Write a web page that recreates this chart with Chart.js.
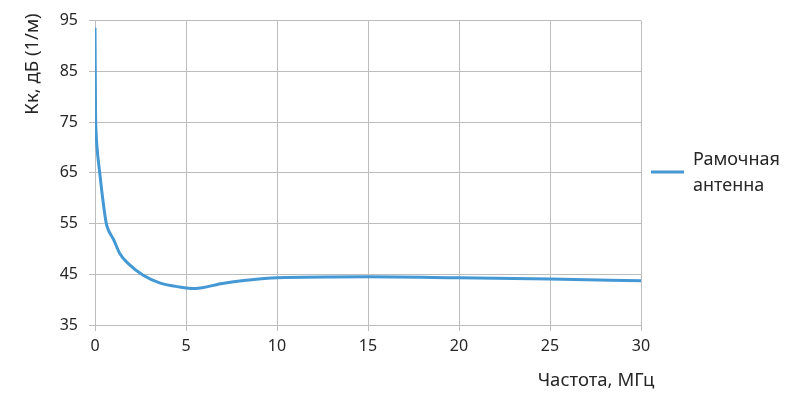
<!DOCTYPE html>
<html>
<head>
<meta charset="utf-8">
<script src="https://cdn.jsdelivr.net/npm/chart.js@4"></script>
<style>
  body { margin: 0; background: #fff; }
</style>
</head>
<body>
<canvas id="myChart" width="800" height="407"></canvas>
<script>
// data
var freq = [0, 0.03, 0.06, 0.11, 0.26, 0.42, 0.62, 0.75, 1.0, 1.36, 1.83, 2.65, 3.55, 4.65, 5.5, 7.0, 8.3, 10, 15, 20, 25, 30];
var kk = [93.6, 77, 73, 70, 65, 60, 55, 53.6, 52, 49.1, 47.1, 44.8, 43.3, 42.5, 42.2, 43.2, 43.8, 44.3, 44.5, 44.3, 44.05, 43.7];
var seriesName = ['Рамочная', 'антенна'];
var xTitle = 'Частота, МГц';
var yTitle = 'Кк, дБ (1/м)';

var lineColor = 'rgb(68, 152, 212)';
var gridColor = '#bdbdbd';
var textColor = '#262626';
var fontFamily = '"Noto Sans", sans-serif';

var points = freq.map(function (f, i) { return { x: f, y: kk[i] }; });

// titles and the two-line legend drawn on the canvas
var extras = {
  id: 'extras',
  afterDraw: function (chart) {
    var c = chart.ctx;
    c.save();
    c.fillStyle = textColor;
    c.textBaseline = 'middle';

    c.font = '18.5px ' + fontFamily;
    c.textAlign = 'center';
    c.fillText(xTitle, 596, 381);

    c.save();
    c.translate(33, 64);
    c.rotate(-Math.PI / 2);
    c.fillText(yTitle, 0, 0);
    c.restore();

    // legend
    c.strokeStyle = lineColor;
    c.lineWidth = 3;
    c.beginPath();
    c.moveTo(651, 172);
    c.lineTo(684, 172);
    c.stroke();
    c.font = '18px ' + fontFamily;
    c.textAlign = 'left';
    c.fillText(seriesName[0], 693, 160);
    c.fillText(seriesName[1], 693, 186);
    c.restore();
  }
};

var ctx = document.getElementById('myChart').getContext('2d');
var chartOne = new Chart(ctx, {
  type: 'line',
  data: {
    datasets: [{
      label: seriesName.join(' '),
      data: points,
      borderColor: lineColor,
      borderWidth: 3,
      pointRadius: 0,
      fill: false,
      cubicInterpolationMode: 'monotone'
    }]
  },
  options: {
    responsive: false,
    animation: false,
    layout: { padding: { left: 0, top: 18, right: 159, bottom: 0 } },
    plugins: {
      legend: { display: false },
      tooltip: { enabled: false }
    },
    scales: {
      x: {
        type: 'linear',
        min: 0,
        max: 30,
        ticks: { stepSize: 5, color: textColor, font: { family: fontFamily, size: 16 }, padding: 6 },
        grid: { color: gridColor, lineWidth: 1, tickLength: 6 },
        border: { color: gridColor },
        afterFit: function (s) { s.height = 82; }
      },
      y: {
        min: 35,
        max: 95,
        ticks: { stepSize: 10, color: textColor, font: { family: fontFamily, size: 16 }, padding: 11 },
        grid: { color: gridColor, lineWidth: 1, tickLength: 6 },
        border: { color: gridColor },
        afterFit: function (s) { s.width = 95; }
      }
    }
  },
  plugins: [extras]
});
</script>
</body>
</html>
